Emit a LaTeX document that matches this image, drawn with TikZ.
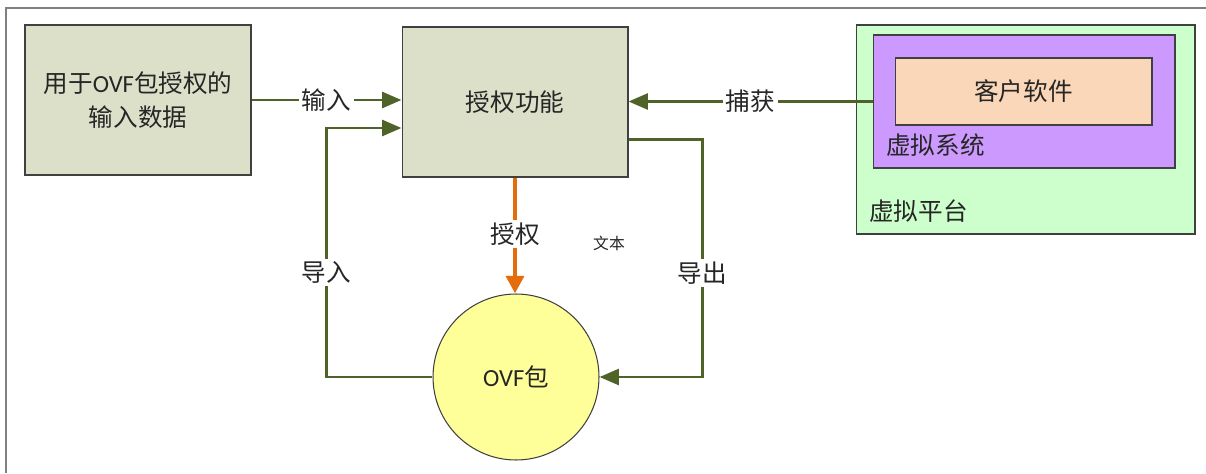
\documentclass[tikz,border=0pt]{standalone}
\usepackage{fontspec}
\setmainfont{Noto Sans CJK SC}
\newfontfamily\lat{Carlito}
\usepackage{xcolor}
\usetikzlibrary{arrows.meta, positioning, calc}

\definecolor{olivearr}{HTML}{4F6228}
\definecolor{orangearr}{HTML}{E46C0A}
\definecolor{funcfill}{HTML}{DDE0C9}
\definecolor{platfill}{HTML}{CCFFCC}
\definecolor{sysfill}{HTML}{CC99FF}
\definecolor{guestfill}{HTML}{FAD7B8}
\definecolor{ovffill}{HTML}{FFFF99}

\begin{document}
\begin{tikzpicture}[
  x=0.02cm, y=-0.02cm,
  every node/.style={font=\fontsize{14}{19}\selectfont, text=black!85},
  box/.style={draw=black!75, line width=0.6pt, align=center, inner sep=0pt},
  func/.style={box, fill=funcfill, minimum width=4.52cm, minimum height=3cm},
  ovf/.style={box, circle, fill=ovffill, minimum size=3.32cm},
  lbl/.style={fill=white, inner sep=1.5pt},
  arr/.style={-{Triangle[length=11pt, width=9pt]}, line width=1.7pt, draw=olivearr},
  oarr/.style={-{Triangle[length=10pt, width=10pt]}, line width=2.8pt, draw=orangearr},
]
\useasboundingbox (0,0) rectangle (1206,473);
\draw[gray, line width=1.2pt] (6,473) -- (6,8) -- (1206,8);

% left side and function block
\node[func] (input) at (138,100) {用于{\lat OVF}包授权的\\输入数据};
\node[func] (auth) at (515,102) {授权功能};
\node[ovf] (pkg) at (516,377) {{\lat OVF}包};

% virtual platform
\node[box, fill=platfill, minimum width=6.78cm, minimum height=4.18cm] (plat) at (1025.5,129.5) {};
\node[box, fill=sysfill, minimum width=6.04cm, minimum height=2.66cm] (vsys) at (1024,101.5) {};
\node[box, fill=guestfill, minimum width=5.14cm, minimum height=1.34cm] (guest) at (1023.5,91.5) {客户软件};
\node[anchor=west] (vsyslbl) at (880,145) {虚拟系统};
\node[anchor=west] (platlbl) at (863,211) {虚拟平台};

\draw[arr] (input.east) -- node[lbl] {输入} (input.east -| auth.west);
\draw[arr] (vsys.west) -- node[lbl] {捕获} (vsys.west -| auth.east);
\draw[arr] (pkg.west) -- ++(-106,0) |- node[lbl, pos=0.21] {导入} ($(auth.west)+(0,-0.52cm)$);
\draw[arr] ($(auth.east)+(0,-0.76cm)$) -- ++(74,0) |- node[lbl, pos=0.28] {导出} (pkg.east);
\draw[oarr] (auth.south) -- node[lbl, pos=0.49] {授权} (pkg.north -| auth.south);

\node[font=\fontsize{9}{11}\selectfont] (txt) at (609,243) {文本};
\end{tikzpicture}
\end{document}
